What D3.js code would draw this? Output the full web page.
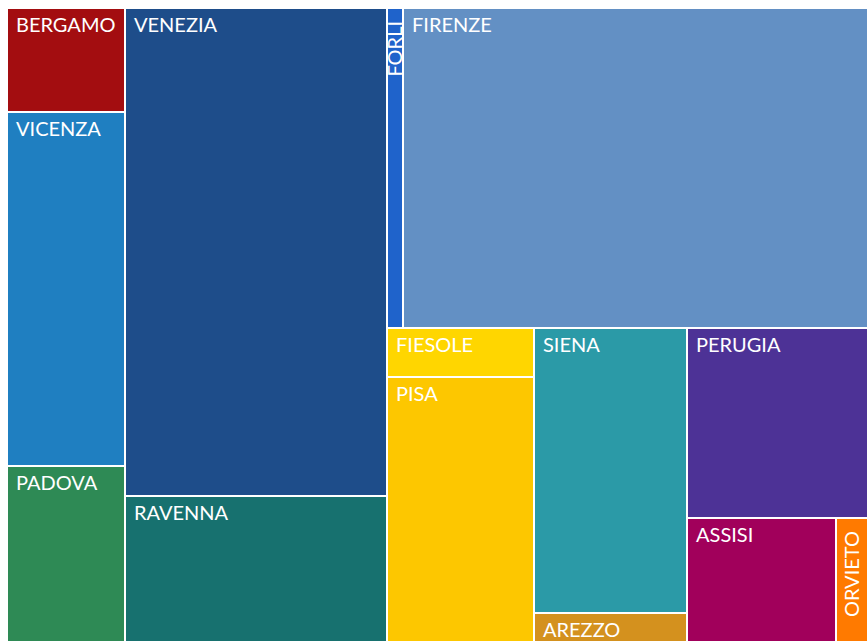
<!DOCTYPE html>
<html>
<head>
<meta charset="utf-8">
<script src="https://cdn.jsdelivr.net/npm/d3@7"></script>
<style>
  html, body { margin: 0; padding: 0; background: #ffffff; }
  svg { display: block; }
  text { font-family: Lato, "Open Sans", sans-serif; fill: #ffffff; }
</style>
</head>
<body>
<svg id="chart" width="867" height="641"></svg>
<script>
// ---- data ----
const cities = ["BERGAMO","VICENZA","PADOVA","VENEZIA","RAVENNA","FORLI","FIRENZE",
                "FIESOLE","PISA","SIENA","AREZZO","PERUGIA","ASSISI","ORVIETO"];
const values = [22.6, 76.5, 38.2, 233.9, 69.9, 9.4, 272.0,
                13.3, 71.5, 79.5, 8.1, 63.0, 34.0, 7.3];
// grouping of cities (nested groups)
const groups = [
  ["BERGAMO","VICENZA","PADOVA"],
  ["VENEZIA","RAVENNA"],
  [
    ["FORLI","FIRENZE"],
    [["FIESOLE","PISA"],["SIENA","AREZZO"],["PERUGIA",["ASSISI","ORVIETO"]]]
  ]
];
const palette = ["#a30d10","#1f7fc1","#2e8a55","#1e4d8a","#17716f","#1f63cb","#6390c4",
                 "#ffd600","#fdc700","#2b9aa7","#d4911e","#4d3296","#a1005b","#ff7a00"];

// ---- build hierarchy ----
const valueOf = new Map(cities.map((c, i) => [c, values[i]]));
function build(node) {
  if (typeof node === "string") return { name: node, value: valueOf.get(node) };
  return { children: node.map(build) };
}
const root = d3.hierarchy(build(groups)).sum(d => d.value || 0);

const W = 867, H = 641, offX = 8, offY = 9;
d3.treemap()
  .tile(d3.treemapSliceDice)
  .size([W - offX, H - offY])
  .paddingInner(2)
  .round(true)(root);

const color = d3.scaleOrdinal(cities, palette);

const svg = d3.select("#chart");
const g = svg.append("g").attr("transform", `translate(${offX},${offY})`);

const leaves = g.selectAll("g.cell")
  .data(root.leaves())
  .join("g")
  .attr("class", "cell")
  .attr("transform", d => `translate(${d.x0},${d.y0})`);

leaves.append("clipPath")
  .attr("id", (d, i) => "clip" + i)
  .append("rect")
  .attr("width", d => d.x1 - d.x0)
  .attr("height", d => d.y1 - d.y0);

leaves.append("rect")
  .attr("width", d => d.x1 - d.x0)
  .attr("height", d => d.y1 - d.y0)
  .attr("fill", d => color(d.data.name));

leaves.append("g")
  .attr("clip-path", (d, i) => `url(#clip${i})`)
  .append("text")
  .attr("font-size", 20)
  .attr("transform", d => {
    const w = d.x1 - d.x0;
    if (w < 40) return `translate(${w / 2 + 7},${12}) rotate(-90)`;
    return `translate(8,23)`;
  })
  .attr("text-anchor", d => (d.x1 - d.x0) < 40 ? "end" : "start")
  .text(d => d.data.name);
</script>
</body>
</html>
